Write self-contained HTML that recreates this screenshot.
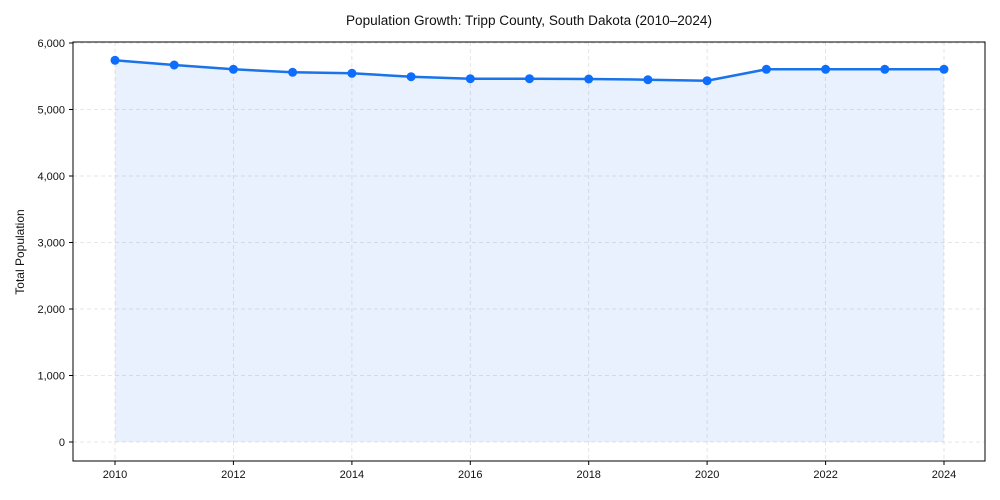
<!DOCTYPE html>
<html><head><meta charset="utf-8"><style>body{margin:0;background:#fff}svg{display:block;font-family:"Liberation Sans",Arial,sans-serif}</style></head>
<body>
<svg width="1000" height="500" viewBox="0 0 1000 500">
<rect width="1000" height="500" fill="#fff"/>
<text x="529" y="25" text-anchor="middle" font-size="13.5" fill="#111" textLength="366" lengthAdjust="spacingAndGlyphs">Population Growth: Tripp County, South Dakota (2010–2024)</text>
<g stroke="#dedede" stroke-dasharray="4,3" stroke-width="0.8">
<line x1="73" x2="985" y1="442" y2="442"/><line x1="73" x2="985" y1="375.5" y2="375.5"/><line x1="73" x2="985" y1="309" y2="309"/><line x1="73" x2="985" y1="242.5" y2="242.5"/><line x1="73" x2="985" y1="176" y2="176"/><line x1="73" x2="985" y1="109.5" y2="109.5"/><line x1="73" x2="985" y1="43" y2="43"/>
<line y1="42" y2="461" x1="115" x2="115"/><line y1="42" y2="461" x1="233.4" x2="233.4"/><line y1="42" y2="461" x1="351.9" x2="351.9"/><line y1="42" y2="461" x1="470.3" x2="470.3"/><line y1="42" y2="461" x1="588.7" x2="588.7"/><line y1="42" y2="461" x1="707.1" x2="707.1"/><line y1="42" y2="461" x1="825.6" x2="825.6"/><line y1="42" y2="461" x1="944" x2="944"/>
</g>
<polygon fill="#1a73e8" fill-opacity="0.1" points="115,442 115,60.3 174.2,65 233.4,69.3 292.6,72.3 351.9,73.3 411.1,76.7 470.3,78.7 529.5,78.7 588.7,79 647.9,79.7 707.1,80.7 766.4,69.3 825.6,69.3 884.8,69.3 944,69.3 944,442"/>
<polyline fill="none" stroke="#1a73e8" stroke-width="2.5" points="115,60.3 174.2,65 233.4,69.3 292.6,72.3 351.9,73.3 411.1,76.7 470.3,78.7 529.5,78.7 588.7,79 647.9,79.7 707.1,80.7 766.4,69.3 825.6,69.3 884.8,69.3 944,69.3"/>
<g fill="#0d6efd">
<circle cx="115" cy="60.3" r="4.5"/><circle cx="174.2" cy="65" r="4.5"/><circle cx="233.4" cy="69.3" r="4.5"/><circle cx="292.6" cy="72.3" r="4.5"/><circle cx="351.9" cy="73.3" r="4.5"/><circle cx="411.1" cy="76.7" r="4.5"/><circle cx="470.3" cy="78.7" r="4.5"/><circle cx="529.5" cy="78.7" r="4.5"/><circle cx="588.7" cy="79" r="4.5"/><circle cx="647.9" cy="79.7" r="4.5"/><circle cx="707.1" cy="80.7" r="4.5"/><circle cx="766.4" cy="69.3" r="4.5"/><circle cx="825.6" cy="69.3" r="4.5"/><circle cx="884.8" cy="69.3" r="4.5"/><circle cx="944" cy="69.3" r="4.5"/>
</g>
<rect x="73" y="42" width="912" height="419" fill="none" stroke="#000" stroke-width="1"/>
<g stroke="#000"><line x1="69" x2="73" y1="442" y2="442"/><line x1="69" x2="73" y1="375.5" y2="375.5"/><line x1="69" x2="73" y1="309" y2="309"/><line x1="69" x2="73" y1="242.5" y2="242.5"/><line x1="69" x2="73" y1="176" y2="176"/><line x1="69" x2="73" y1="109.5" y2="109.5"/><line x1="69" x2="73" y1="43" y2="43"/>
<line y1="461" y2="465" x1="115" x2="115"/><line y1="461" y2="465" x1="233.4" x2="233.4"/><line y1="461" y2="465" x1="351.9" x2="351.9"/><line y1="461" y2="465" x1="470.3" x2="470.3"/><line y1="461" y2="465" x1="588.7" x2="588.7"/><line y1="461" y2="465" x1="707.1" x2="707.1"/><line y1="461" y2="465" x1="825.6" x2="825.6"/><line y1="461" y2="465" x1="944" x2="944"/></g>
<g font-size="11" fill="#111" text-anchor="end">
<text x="65" y="446">0</text><text x="65" y="379.5">1,000</text><text x="65" y="313">2,000</text><text x="65" y="246.5">3,000</text><text x="65" y="180">4,000</text><text x="65" y="113.5">5,000</text><text x="65" y="47">6,000</text></g>
<g font-size="11" fill="#111" text-anchor="middle">
<text x="115" y="478">2010</text><text x="233.4" y="478">2012</text><text x="351.9" y="478">2014</text><text x="470.3" y="478">2016</text><text x="588.7" y="478">2018</text><text x="707.1" y="478">2020</text><text x="825.6" y="478">2022</text><text x="944" y="478">2024</text></g>
<text transform="translate(24,252) rotate(-90)" text-anchor="middle" font-size="12" fill="#111">Total Population</text>
</svg>
</body></html>
